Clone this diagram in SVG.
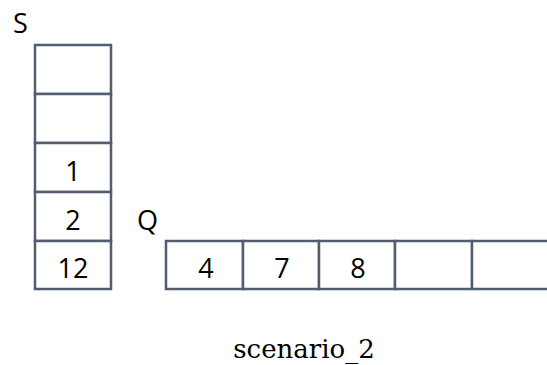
<svg xmlns="http://www.w3.org/2000/svg" width="547" height="365" viewBox="0 0 547 365">
<style>
.cell{fill:#fff;stroke:#525e70;stroke-width:2.5}
.t{font-family:"Open Sans","Liberation Sans",sans-serif;font-size:27px;fill:#000;text-anchor:middle}
.lbl{font-family:"Open Sans","Liberation Sans",sans-serif;font-size:27px;fill:#000}
.cap{font-family:"DejaVu Serif","Liberation Serif",serif;font-size:26px;fill:#000;text-anchor:middle}
</style>
<rect width="547" height="365" fill="#fff"/>
<g id="stack">
<text class="lbl" x="13" y="33">S</text>
<g id="s0"><rect class="cell" x="35" y="45" width="76" height="49"/></g>
<g id="s1"><rect class="cell" x="35" y="94" width="76" height="49"/></g>
<g id="s2"><rect class="cell" x="35" y="143" width="76" height="49"/><text class="t" x="73" y="181">1</text></g>
<g id="s3"><rect class="cell" x="35" y="192" width="76" height="49"/><text class="t" x="73" y="230">2</text></g>
<g id="s4"><rect class="cell" x="35" y="241" width="76" height="48"/><text class="t" x="73" y="278">12</text></g>
</g>
<g id="queue">
<text class="lbl" x="137" y="230">Q</text>
<g id="q0"><rect class="cell" x="166" y="241" width="77" height="48"/><text class="t" x="206" y="278">4</text></g>
<g id="q1"><rect class="cell" x="243" y="241" width="76" height="48"/><text class="t" x="282" y="278">7</text></g>
<g id="q2"><rect class="cell" x="319" y="241" width="76" height="48"/><text class="t" x="358" y="278">8</text></g>
<g id="q3"><rect class="cell" x="395" y="241" width="77" height="48"/></g>
<g id="q4"><rect class="cell" x="472" y="241" width="80" height="48"/></g>
</g>
<g id="connectors"></g>
<text class="cap" x="304" y="358">scenario_2</text>
</svg>
